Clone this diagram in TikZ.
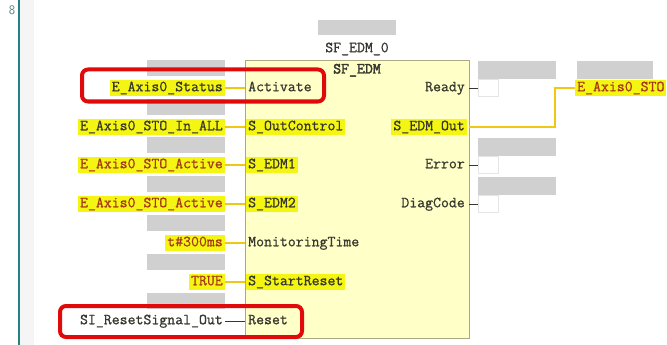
\documentclass[tikz,border=0pt]{standalone}
\usepackage{fontspec}
\newfontfamily\plcfont[FakeBold=0.8]{Latin Modern Mono}
\newfontfamily\plctitlefont[FakeBold=2.6]{Latin Modern Mono}
\usetikzlibrary{positioning}
\definecolor{fbfill}{RGB}{255,255,200}
\definecolor{fbedge}{RGB}{170,170,130}
\definecolor{hlyellow}{RGB}{245,245,20}
\definecolor{wireyellow}{RGB}{240,200,20}
\definecolor{varfill}{RGB}{208,208,208}
\definecolor{pintext}{RGB}{55,55,45}
\definecolor{vartext}{RGB}{165,55,25}
\definecolor{markred}{RGB}{225,10,10}
\definecolor{marginteal}{RGB}{40,130,130}

\begin{document}
\begin{tikzpicture}[x=1pt, y=-1pt]

  \tikzset{
    txt/.style = {
      font=\plcfont\fontsize{15.4}{17}\selectfont,
      inner xsep=2pt, inner ysep=2.2pt, text height=9.5pt, text depth=3pt
    },
    pinname/.style  = {txt, text=pintext, anchor=west},
    pinhl/.style    = {pinname, fill=hlyellow},
    outname/.style  = {txt, text=pintext, anchor=east},
    outhl/.style    = {outname, fill=hlyellow},
    actual/.style   = {txt, text=pintext, anchor=east},
    actualhl/.style = {actual, fill=hlyellow},
    actualred/.style = {actualhl, text=vartext},
    varbox/.style = {
      rectangle, fill=varfill, inner sep=0pt,
      minimum width=78pt, minimum height=16pt
    },
    outbox/.style = {
      rectangle, draw=black!10, fill=white, inner sep=0pt,
      minimum width=20pt, minimum height=17pt, anchor=west
    },
    fbblock/.style = {
      rectangle, draw=fbedge, fill=fbfill, line width=0.8pt,
      minimum width=224pt, minimum height=278pt, inner sep=0pt
    },
    wire/.style     = {wireyellow, line width=1.6pt},
    busline/.style  = {wireyellow, line width=2.4pt},
    stub/.style     = {pintext, line width=0.9pt},
    redframe/.style = {
      rectangle, draw=markred, line width=4pt, rounded corners=6pt,
      inner sep=0pt
    }
  }

  \useasboundingbox (0,0) rectangle (667,345);
  \fill [white] (0,0) rectangle (667,345);

  % --- Editor margin ----------------------------------------------------------
  \fill [black!4] (20,0) rectangle (34,345);
  \draw [marginteal, line width=2pt] (19,0) -- (19,345);
  \node (lineno) [font=\sffamily\fontsize{13}{14}\selectfont, text=marginteal!40!gray,
                  inner sep=0pt] at (12,10) {8};

  % --- Function block ---------------------------------------------------------
  \node (fb) [fbblock] at (357,199) {};
  \node (fbtype) [txt, font=\plctitlefont\fontsize{15.4}{17}\selectfont,
                  text=pintext, below=2pt of fb.north] {SF\_EDM};
  \node (inst) [txt, text=pintext, above=2pt of fb.north] {SF\_EDM\_0};
  \node (instvar) [varbox, above=5pt of inst, minimum height=15pt] {};

  % --- Input pins --------------------------------------------------------------
  \node (in1) [pinname] at (246,88)  {Activate};
  \node (in2) [pinhl]   at (246,127) {S\_OutControl};
  \node (in3) [pinhl]   at (246,165) {S\_EDM1};
  \node (in4) [pinhl]   at (246,204) {S\_EDM2};
  \node (in5) [pinname] at (246,243) {MonitoringTime};
  \node (in6) [pinhl]   at (246,282) {S\_StartReset};
  \node (in7) [pinname] at (246,321) {Reset};

  % --- Actual parameters on the inputs -----------------------------------------
  \node (arg1) [actualhl]  at (225,88)  {E\_Axis0\_Status};
  \node (arg2) [actualhl]  at (225,127) {E\_Axis0\_STO\_In\_ALL};
  \node (arg3) [actualred] at (225,165) {E\_Axis0\_STO\_Active};
  \node (arg4) [actualred] at (225,204) {E\_Axis0\_STO\_Active};
  \node (arg5) [actualred] at (225,243) {t\#300ms};
  \node (arg6) [actualred] at (225,282) {TRUE};
  \node (arg7) [actual]    at (225,321) {SI\_ResetSignal\_Out};

  \node (var1) [varbox, anchor=south east] at (225,76)  {};
  \node (var2) [varbox, anchor=south east] at (225,115) {};
  \node (var3) [varbox, anchor=south east] at (225,153) {};
  \node (var4) [varbox, anchor=south east] at (225,192) {};
  \node (var5) [varbox, anchor=south east] at (225,231) {};
  \node (var6) [varbox, anchor=south east] at (225,270) {};
  \node (var7) [varbox, anchor=south east] at (225,309) {};

  % --- Output pins -------------------------------------------------------------
  \node (out1) [outname] at (467,88)  {Ready};
  \node (out2) [outhl]   at (467,127) {S\_EDM\_Out};
  \node (out3) [outname] at (467,165) {Error};
  \node (out4) [outname] at (467,204) {DiagCode};

  \node (obox1) [outbox] at (478,88)  {};
  \node (obox3) [outbox] at (478,165) {};
  \node (obox4) [outbox] at (478,204) {};

  \node (ovar1) [varbox, anchor=south west, minimum height=18pt] at (478,79)  {};
  \node (ovar3) [varbox, anchor=south west, minimum height=18pt] at (478,156) {};
  \node (ovar4) [varbox, anchor=south west, minimum height=18pt] at (478,195) {};

  % --- Target variable of S_EDM_Out --------------------------------------------
  \node (dest) [actualred, anchor=west] at (575,88) {E\_Axis0\_STO};
  \node (destvar) [varbox, anchor=south west, minimum width=76pt,
                   minimum height=18pt] at (577,79) {};
  \coordinate (bend) at (555,88);

  % --- Input wires ---------------------------------------------------------------
  \draw [wire] (arg1.east) -- (arg1.east -| fb.west);
  \draw [wire] (arg2.east) -- (arg2.east -| fb.west);
  \draw [wire] (arg3.east) -- (arg3.east -| fb.west);
  \draw [wire] (arg4.east) -- (arg4.east -| fb.west);
  \draw [wire] (arg5.east) -- (arg5.east -| fb.west);
  \draw [wire] (arg6.east) -- (arg6.east -| fb.west);
  \draw [stub] (arg7.east) -- (arg7.east -| fb.west);

  % --- Output wires --------------------------------------------------------------
  \draw [stub] (fb.east |- obox1) -- (obox1.west);
  \draw [stub] (fb.east |- obox3) -- (obox3.west);
  \draw [stub] (fb.east |- obox4) -- (obox4.west);
  \draw [busline] (fb.east |- out2) -| (bend) -- (dest.west);

  % --- Highlight frames ----------------------------------------------------------
  \node (mark1) [redframe, minimum width=242pt, minimum height=32pt] at (203,85.5) {};
  \node (mark2) [redframe, minimum width=242pt, minimum height=31pt] at (181,321.5) {};

\end{tikzpicture}
\end{document}
